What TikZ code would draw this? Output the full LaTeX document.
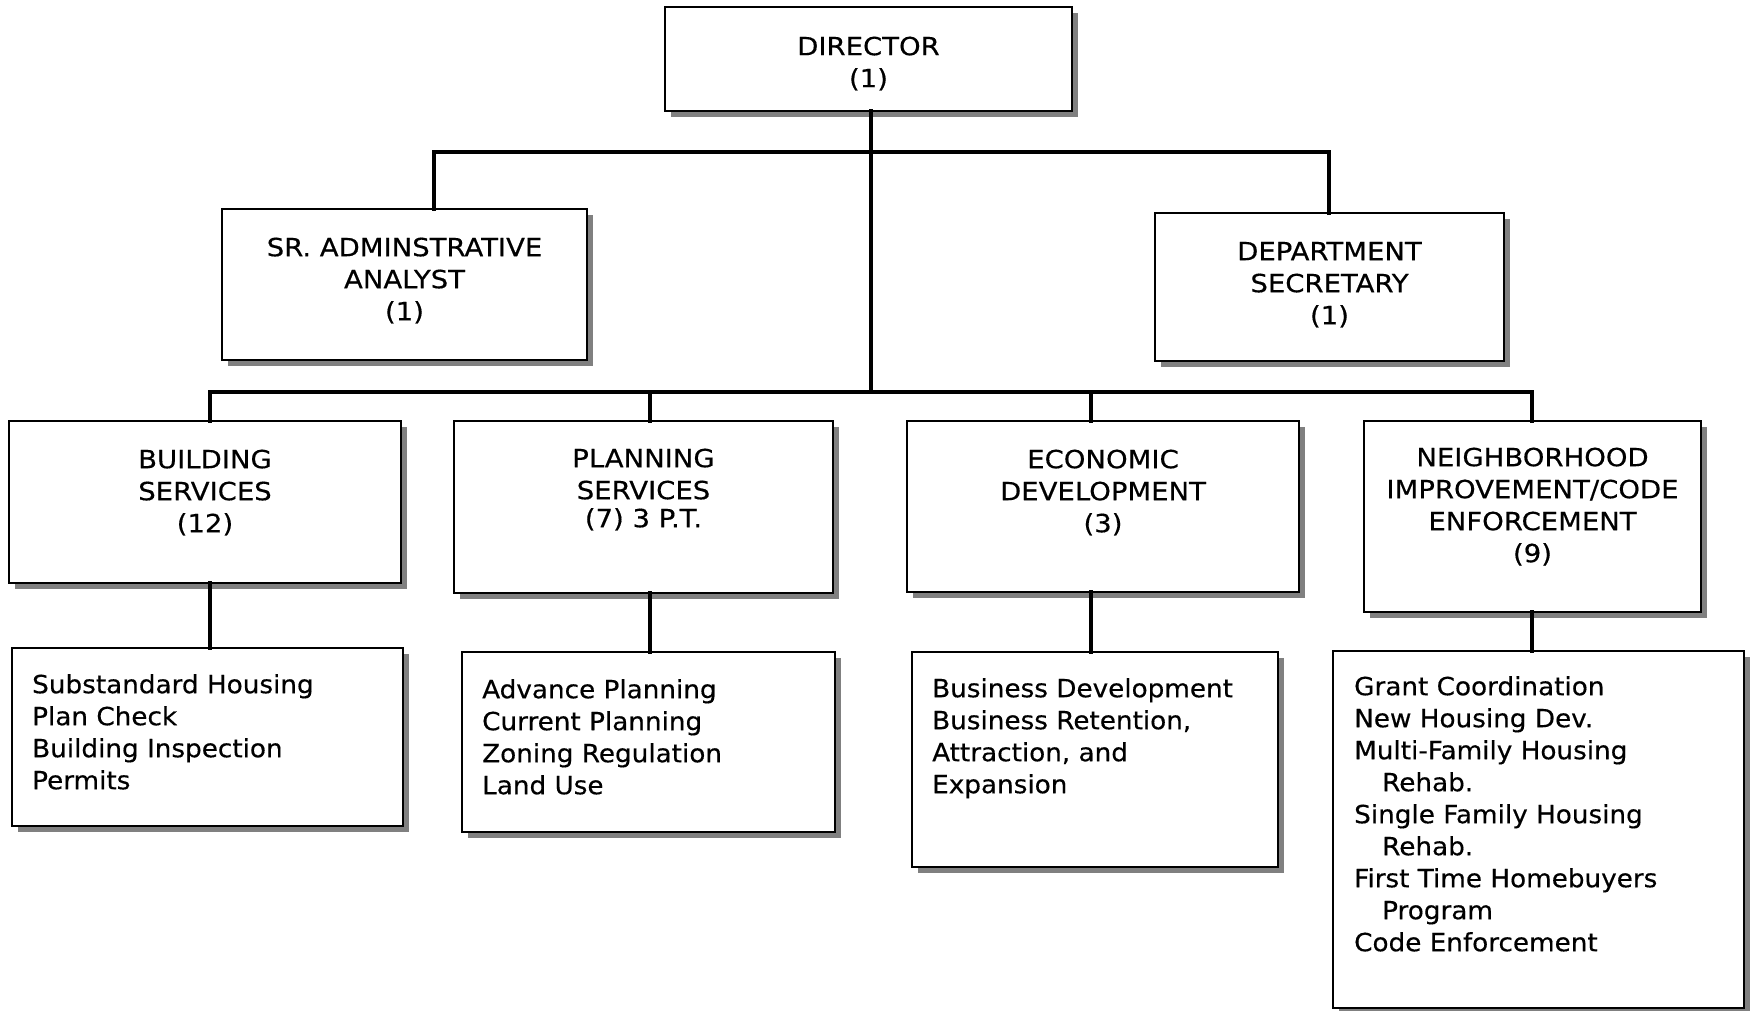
\documentclass[tikz,border=0pt]{standalone}
\usepackage{fontspec}
\setmainfont[FakeStretch=1.05,FakeBold=0.4]{DejaVu Sans}
\newfontfamily\ttlfont[FakeStretch=1.1,FakeBold=0.4]{DejaVu Sans}
\usetikzlibrary{shadows}
\tikzset{
  box/.style={draw, line width=2pt, fill=white, inner sep=0pt, outer sep=0pt, anchor=north west,
    drop shadow={shadow xshift=6pt, shadow yshift=-6pt, fill=black!50, opacity=1}},
  ttl/.style={anchor=north, align=center, inner sep=0pt, font=\ttlfont\fontsize{25}{32}\selectfont},
  lst/.style={anchor=north west, align=left, inner sep=0pt, font=\fontsize{25}{32}\selectfont},
  conn/.style={line width=3.3pt, line cap=rect},
}
\begin{document}
\begin{tikzpicture}[x=1pt,y=-1pt]
\useasboundingbox (0,0) rectangle (1751,1011);
% junction coordinates
\coordinate (b1a) at (434,152);
\coordinate (b1b) at (1329,152);
\coordinate (b2a) at (210,392);
\coordinate (b2b) at (650,392);
\coordinate (b2m) at (871,392);
\coordinate (b2c) at (1091,392);
\coordinate (b2d) at (1532,392);
% boxes
\node[box, minimum width=407pt, minimum height=104pt] (dir) at (665,7) {};
\node[box, minimum width=365pt, minimum height=151pt] (sr) at (222,209) {};
\node[box, minimum width=349pt, minimum height=148pt] (sec) at (1155,213) {};
\node[box, minimum width=392pt, minimum height=162pt] (bld) at (9,421) {};
\node[box, minimum width=379pt, minimum height=172pt] (pln) at (454,421) {};
\node[box, minimum width=392pt, minimum height=171pt] (eco) at (907,421) {};
\node[box, minimum width=337pt, minimum height=191pt] (nbh) at (1364,421) {};
\node[box, minimum width=391pt, minimum height=178pt] (bldS) at (12,648) {};
\node[box, minimum width=373pt, minimum height=180pt] (plnS) at (462,652) {};
\node[box, minimum width=366pt, minimum height=215pt] (ecoS) at (912,652) {};
\node[box, minimum width=411pt, minimum height=357pt] (nbhS) at (1333,651) {};
% connectors
\draw[conn] (b1a) -- (b1b);
\draw[conn] (b2a) -- (b2d);
\draw[conn] (dir.south -| b2m) -- (b2m);
\draw[conn] (b1a) -- (b1a |- sr.north);
\draw[conn] (b1b) -- (b1b |- sec.north);
\draw[conn] (b2a) -- (b2a |- bld.north);
\draw[conn] (b2b) -- (b2b |- pln.north);
\draw[conn] (b2c) -- (b2c |- eco.north);
\draw[conn] (b2d) -- (b2d |- nbh.north);
\draw[conn] (bld.south -| b2a) -- (b2a |- bldS.north);
\draw[conn] (pln.south -| b2b) -- (b2b |- plnS.north);
\draw[conn] (eco.south -| b2c) -- (b2c |- ecoS.north);
\draw[conn] (nbh.south -| b2d) -- (b2d |- nbhS.north);
% titles
\node[ttl] (dirT) at ([yshift=-25.6pt]dir.north) {\strut DIRECTOR\\(1)};
\node[ttl] (srT) at ([yshift=-24.6pt]sr.north) {\strut SR. ADMINSTRATIVE\\ANALYST\\(1)};
\node[ttl] (secT) at ([yshift=-24.6pt]sec.north) {\strut DEPARTMENT\\SECRETARY\\(1)};
\node[ttl] (bldT) at ([yshift=-24.6pt]bld.north) {\strut BUILDING\\SERVICES\\(12)};
\node[ttl] (plnT) at ([yshift=-23.6pt]pln.north) {\strut PLANNING\\SERVICES\\[-4pt](7) 3 P.T.};
\node[ttl] (ecoT) at ([yshift=-24.6pt]eco.north) {\strut ECONOMIC\\DEVELOPMENT\\(3)};
\node[ttl] (nbhT) at ([yshift=-22.6pt]nbh.north) {\strut NEIGHBORHOOD\\IMPROVEMENT/CODE\\ENFORCEMENT\\(9)};
% lists
\node[lst] (bldL) at ([xshift=20pt,yshift=-22.6pt]bldS.north west) {\strut Substandard Housing\\Plan Check\\Building Inspection\\Permits};
\node[lst] (plnL) at ([xshift=20pt,yshift=-23.6pt]plnS.north west) {\strut Advance Planning\\Current Planning\\Zoning Regulation\\Land Use};
\node[lst] (ecoL) at ([xshift=20pt,yshift=-22.6pt]ecoS.north west) {\strut Business Development\\Business Retention,\\Attraction, and\\Expansion};
\node[lst] (nbhL) at ([xshift=21pt,yshift=-21.6pt]nbhS.north west) {\strut Grant Coordination\\New Housing Dev.\\Multi-Family Housing\\\hspace*{28pt}Rehab.\\Single Family Housing\\\hspace*{28pt}Rehab.\\First Time Homebuyers\\\hspace*{28pt}Program\\Code Enforcement};
\end{tikzpicture}
\end{document}
